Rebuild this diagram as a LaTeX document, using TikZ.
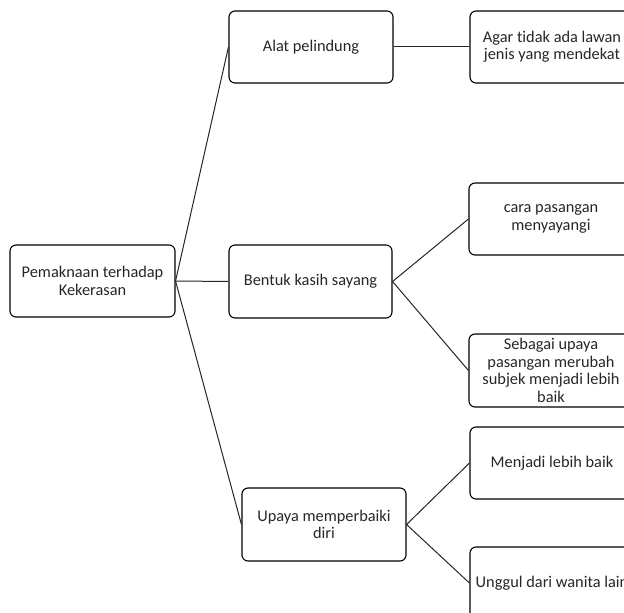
\documentclass[tikz,border=0pt]{standalone}
\usepackage{fontspec}
\setmainfont[Ligatures=NoCommon]{Carlito}
\begin{document}
\begin{tikzpicture}[x=1bp,y=-1bp,
  box/.style={draw=black, line width=1.1bp, rounded corners=6bp, align=center,
    inner sep=1bp, font=\fontsize{16.4}{17.5}\selectfont, text=black!85},
  link/.style={draw=black!85, line width=1bp}]
\useasboundingbox (0,0) rectangle (624,613);
\clip (0,0) rectangle (624,613);
\node[box, minimum width=165bp, minimum height=72bp] (root) at (92.5,281) {Pemaknaan terhadap\\Kekerasan};
\node[box, minimum width=164bp, minimum height=72bp] (alat) at (311,47) {Alat pelindung};
\node[box, minimum width=163bp, minimum height=73bp] (bentuk) at (310.5,281.5) {Bentuk kasih sayang};
\node[box, minimum width=164bp, minimum height=73bp] (upaya) at (324,524.5) {Upaya memperbaiki\\diri};
\node[box, minimum width=164bp, minimum height=72bp] (agar) at (552,47) {Agar tidak ada lawan\\jenis yang mendekat};
\node[box, minimum width=164bp, minimum height=72bp] (cara) at (551,219) {cara pasangan\\menyayangi};
\node[box, minimum width=164bp, minimum height=73bp] (sebagai) at (551,370.5) {Sebagai upaya\\pasangan merubah\\subjek menjadi lebih\\baik};
\node[box, minimum width=164bp, minimum height=72bp] (menjadi) at (552,463) {Menjadi lebih baik};
\node[box, minimum width=164bp, minimum height=72bp] (unggul) at (552,583) {Unggul dari wanita lain};
\draw[link] (root.east) -- (alat.west);
\draw[link] (root.east) -- (bentuk.west);
\draw[link] (root.east) -- (upaya.west);
\draw[link] (alat.east) -- (agar.west);
\draw[link] (bentuk.east) -- (cara.west);
\draw[link] (bentuk.east) -- (sebagai.west);
\draw[link] (upaya.east) -- (menjadi.west);
\draw[link] (upaya.east) -- (unggul.west);
\end{tikzpicture}
\end{document}
